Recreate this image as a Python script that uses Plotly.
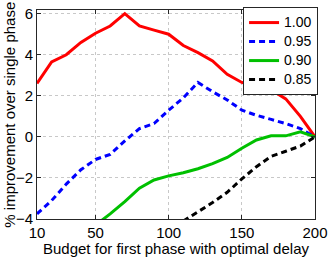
import plotly.graph_objects as go

budget = [10, 20, 30, 40, 50, 60, 70, 80, 90, 100, 110, 120, 130, 140, 150, 160, 170, 180, 190, 200]
s100 = [2.6, 3.65, 4.0, 4.6, 5.05, 5.4, 6.0, 5.4, 5.2, 5.0, 4.45, 4.1, 3.7, 3.05, 2.65, 2.45, 2.3, 1.85, 1.0, 0.0]
s095 = [-3.75, -3.1, -2.3, -1.6, -1.1, -0.85, -0.2, 0.4, 0.65, 1.3, 1.9, 2.65, 2.2, 1.8, 1.3, 1.05, 0.85, 0.65, 0.4, 0.0]
budget090 = [50, 60, 70, 80, 90, 100, 110, 120, 130, 140, 150, 160, 170, 180, 190, 200]
s090 = [-4.3, -3.75, -3.15, -2.5, -2.1, -1.9, -1.75, -1.55, -1.3, -1.0, -0.55, -0.15, 0.05, 0.05, 0.25, 0.0]
budget085 = [110, 120, 130, 140, 150, 160, 170, 180, 190, 200]
s085 = [-4.1, -3.65, -3.2, -2.7, -2.05, -1.45, -0.95, -0.7, -0.45, 0.0]

series_names = ["1.00", "0.95", "0.90", "0.85"]
x_ticks = [10, 50, 100, 150, 200]
y_ticks = [-4, -2, 0, 2, 4, 6]
x_title = "Budget for first phase with optimal delay"
y_title = "% improvement over single phase"

FONT = "Liberation Sans, Arial, sans-serif"


def leg(name):
    return '<span style="font-size:14px">' + name + "</span>"


fig = go.Figure()
fig.add_trace(go.Scatter(x=budget, y=s100, mode="lines", name=leg(series_names[0]),
                         line=dict(color="#ff0000", width=3)))
fig.add_trace(go.Scatter(x=budget, y=s095, mode="lines", name=leg(series_names[1]),
                         line=dict(color="#0000ff", width=3, dash="6px,4px")))
fig.add_trace(go.Scatter(x=budget090, y=s090, mode="lines", name=leg(series_names[2]),
                         line=dict(color="#00c000", width=3)))
fig.add_trace(go.Scatter(x=budget085, y=s085, mode="lines", name=leg(series_names[3]),
                         line=dict(color="#000000", width=3, dash="6px,4px")))

axis_common = dict(
    showline=True, linecolor="#262626", linewidth=1, mirror="ticks",
    ticks="inside", ticklen=4, tickcolor="#262626",
    showgrid=True, gridcolor="#c8c8c8", griddash="dot", gridwidth=1,
    zeroline=False, automargin=False,
    tickfont=dict(size=15, color="#000000", family=FONT),
)

fig.update_xaxes(range=[10, 200], tickvals=x_ticks, **axis_common)
fig.update_yaxes(range=[-4, 6.18], tickvals=y_ticks, **axis_common)

fig.add_annotation(text=x_title, xref="paper", yref="paper", x=0.5, y=-0.09,
                   xanchor="center", yanchor="top", showarrow=False,
                   font=dict(size=15, color="#000000", family=FONT))
fig.add_annotation(text=y_title, xref="paper", yref="paper", x=-0.1, y=0.5,
                   xanchor="center", yanchor="middle", textangle=-90, showarrow=False,
                   font=dict(size=15, color="#000000", family=FONT))

fig.update_layout(
    width=331, height=259,
    margin=dict(l=37, r=16, t=7, b=40),
    paper_bgcolor="white", plot_bgcolor="white",
    font=dict(family=FONT, size=14, color="#000000"),
    showlegend=True,
    legend=dict(x=1.011, y=1.014, xanchor="right", yanchor="top",
                bgcolor="white", bordercolor="#262626", borderwidth=1,
                font=dict(size=11, family=FONT), itemwidth=30,
                tracegroupgap=0),
)

fig.write_html("out.html", config={"displayModeBar": False},
               post_script="document.body.style.margin='0';document.body.style.overflow='hidden';")
